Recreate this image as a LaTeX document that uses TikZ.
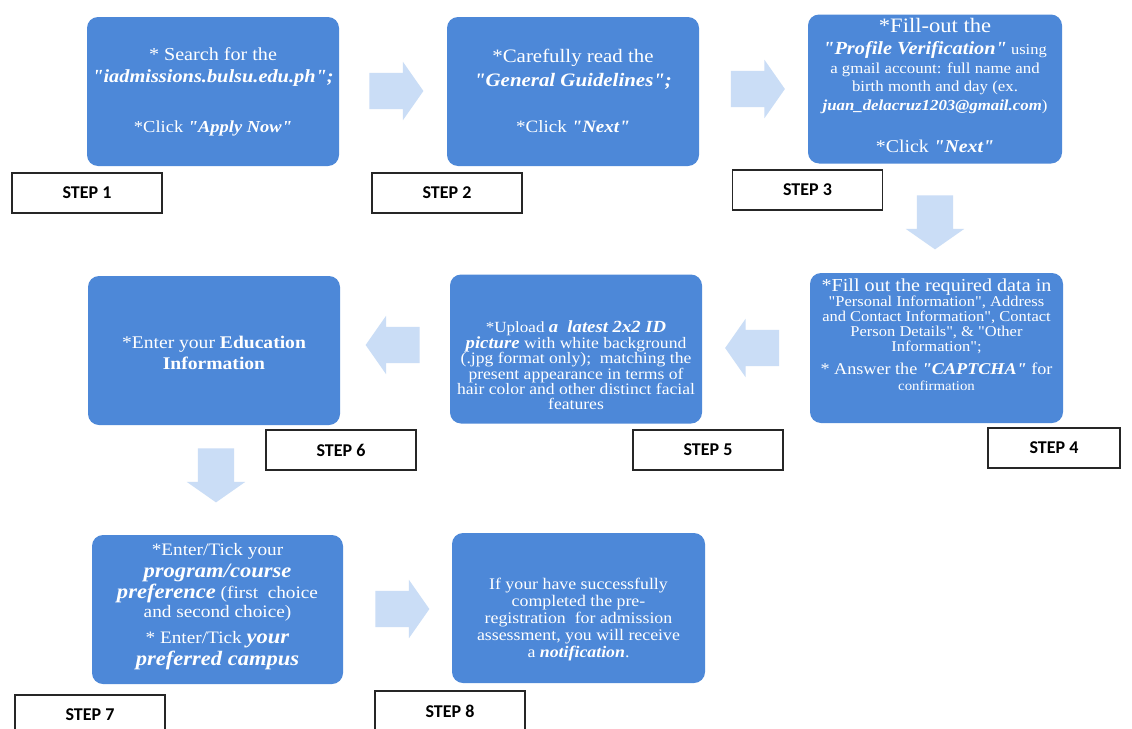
\documentclass[tikz,border=0pt]{standalone}
\usepackage{fontspec}
\setmainfont{Liberation Serif}[Ligatures=TeXOff, FakeStretch=1.1]
\newfontfamily\stepfont{Carlito}
\usetikzlibrary{shapes.arrows}
\definecolor{cardblue}{RGB}{77,136,216}
\definecolor{arrowblue}{RGB}{202,221,246}
\newcommand\fsz[1]{\fontsize{#1}{#1}\selectfont}
\newcommand\bi[1]{\textbf{\textit{#1}}}
\tikzset{
  card/.style={fill=cardblue, rounded corners=11pt, inner sep=0pt},
  ln/.style={text=white, inner sep=0pt, anchor=base},
  steplabel/.style={draw=black!85, line width=1.3pt, fill=white, inner sep=0pt,
    minimum width=150pt, minimum height=40pt, font=\stepfont\bfseries\fsz{18}},
  blockarrow/.style={single arrow, fill=arrowblue, inner sep=0pt,
    single arrow head extend=11pt, single arrow tip angle=110,
    minimum height=54pt}
}
\newcommand\shaft{\rule{0pt}{36pt}}
\begin{document}
\begin{tikzpicture}[x=1pt,y=-1pt]
\useasboundingbox[fill=white] (0,0) rectangle (1132,728);

% ---------- row 1 ----------
\node[card, minimum width=252pt, minimum height=149pt] (b1) at (213,91.5) {};
\node[ln, font=\fsz{18.3}] (t1a) at (213,60) {* Search for the};
\node[ln, font=\fsz{18.5}] (t1b) at (213,82) {\bi{"iadmissions.bulsu.edu.ph";}};
\node[ln, font=\fsz{16.8}] (t1c) at (213,132) {*Click \bi{"Apply Now"}};
\node[steplabel] (s1) at (87,193) {STEP 1};

\node[blockarrow] (a1) at (390,91) {\shaft};

\node[card, minimum width=252pt, minimum height=149pt] (b2) at (573,91.5) {};
\node[ln, font=\fsz{19}] (t2a) at (573,62) {*Carefully read the};
\node[ln, font=\fsz{19}] (t2b) at (573,86) {\bi{"General Guidelines";}};
\node[ln, font=\fsz{17.3}] (t2c) at (573,132) {*Click \bi{"Next"}};
\node[steplabel] (s2) at (447,193) {STEP 2};

\node[blockarrow] (a2) at (751.5,89) {\shaft};

\node[card, minimum width=254pt, minimum height=149pt] (b3) at (935,89) {};
\node[ln, font=\fsz{20.5}] (t3a) at (935,32) {*Fill-out the};
\node[ln, font=\fsz{15}] (t3b) at (935,54) {{\fsz{18.5}\bi{"Profile Verification"}} using};
\node[ln, font=\fsz{15.3}] (t3c) at (935,73) {a gmail account: full name and};
\node[ln, font=\fsz{15.3}] (t3d) at (935,91) {birth month and day (ex.};
\node[ln, font=\fsz{15.3}] (t3e) at (935,110) {\bi{juan\_delacruz1203@gmail.com})};
\node[ln, font=\fsz{18}] (t3f) at (935,152) {*Click \bi{"Next"}};
\node[steplabel] (s3) at (807.5,190) {STEP 3};

\node[blockarrow, rotate=-90] (a3) at (935,216) {\shaft};

% ---------- row 2 ----------
\node[card, minimum width=253pt, minimum height=150pt] (b4) at (936.5,348) {};
\node[ln, font=\fsz{18.3}] (t4a) at (936.5,291) {*Fill out the required data in};
\node[ln, font=\fsz{15}] (t4b) at (936.5,306) {"Personal Information", Address};
\node[ln, font=\fsz{15}] (t4c) at (936.5,321) {and Contact Information", Contact};
\node[ln, font=\fsz{15}] (t4d) at (936.5,336) {Person Details", \& "Other};
\node[ln, font=\fsz{15}] (t4e) at (936.5,351) {Information";};
\node[ln, font=\fsz{16.5}] (t4f) at (936.5,374) {* Answer the \bi{"CAPTCHA"} for};
\node[ln, font=\fsz{13.5}] (t4g) at (936.5,390) {confirmation};
\node[steplabel, minimum width=132pt] (s4) at (1054,448) {STEP 4};

\node[blockarrow, rotate=180] (a4) at (758.5,348) {\shaft};

\node[card, minimum width=252pt, minimum height=149pt] (b5) at (576,349) {};
\node[ln, font=\fsz{15.5}] (t5a) at (576,332) {*Upload {\fsz{17}\bi{a\ \ latest 2x2 ID}}};
\node[ln, font=\fsz{16}] (t5b) at (576,348) {{\fsz{17}\bi{picture}} with white background};
\node[ln, font=\fsz{16}] (t5c) at (576,363.5) {(.jpg format only);\ \ matching the};
\node[ln, font=\fsz{16}] (t5d) at (576,379) {present appearance\ in terms of};
\node[ln, font=\fsz{16}] (t5e) at (576,394.5) {hair color and other distinct facial};
\node[ln, font=\fsz{16}] (t5f) at (576,409) {features};
\node[steplabel] (s5) at (708,450) {STEP 5};

\node[blockarrow, rotate=180] (a5) at (399,345) {\shaft};

\node[card, minimum width=252pt, minimum height=149pt] (b6) at (214,350.5) {};
\node[ln, font=\fsz{17.8}] (t6a) at (214,348) {*Enter your \textbf{Education}};
\node[ln, font=\fsz{17.8}] (t6b) at (214,369) {\textbf{Information}};
\node[steplabel] (s6) at (341,450) {STEP 6};

\node[blockarrow, rotate=-90] (a6) at (216,469) {\shaft};

% ---------- row 3 ----------
\node[card, minimum width=251pt, minimum height=149pt] (b7) at (217.5,609.5) {};
\node[ln, font=\fsz{17.5}] (t7a) at (217.5,555) {*Enter/Tick your};
\node[ln, font=\fsz{20.5}] (t7b) at (217.5,577) {\bi{program/course}};
\node[ln, font=\fsz{17.5}] (t7c) at (217.5,598) {{\fsz{20.5}\bi{preference}} (first\ \ choice};
\node[ln, font=\fsz{17.5}] (t7d) at (217.5,617) {and second choice)};
\node[ln, font=\fsz{17.5}] (t7e) at (217.5,643) {* Enter/Tick {\fsz{20.5}\bi{your}}};
\node[ln, font=\fsz{20.5}] (t7f) at (217.5,665) {\bi{preferred campus}};
\node[steplabel] (s7) at (90,715) {STEP 7};

\node[blockarrow] (a7) at (396,609) {\shaft};

\node[card, minimum width=253pt, minimum height=150pt] (b8) at (578.5,608) {};
\node[ln, font=\fsz{16.2}] (t8a) at (578.5,589) {If your have successfully};
\node[ln, font=\fsz{16.2}] (t8b) at (578.5,606) {completed the pre-};
\node[ln, font=\fsz{16.2}] (t8c) at (578.5,623) {registration\ \ for admission};
\node[ln, font=\fsz{16.2}] (t8d) at (578.5,640) {assessment, you will receive};
\node[ln, font=\fsz{16.2}] (t8e) at (578.5,657) {a \bi{notification}.};
\node[steplabel] (s8) at (450,711) {STEP 8};
\end{tikzpicture}
\end{document}
